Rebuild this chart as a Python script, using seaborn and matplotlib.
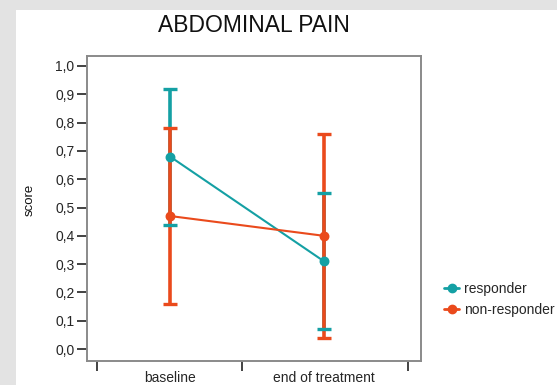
import matplotlib
matplotlib.use("Agg")
import matplotlib.pyplot as plt
from matplotlib.patches import Rectangle
import numpy as np
import pandas as pd
import seaborn as sns

# ---- data -------------------------------------------------------------
timepoints = ["baseline", "end of treatment"]
groups = ["responder", "non-responder"]
responder_mean = [0.68, 0.31]
responder_low = [0.44, 0.07]
responder_high = [0.92, 0.55]
nonresponder_mean = [0.47, 0.40]
nonresponder_low = [0.16, 0.04]
nonresponder_high = [0.78, 0.76]
yticks = [0.0, 0.1, 0.2, 0.3, 0.4, 0.5, 0.6, 0.7, 0.8, 0.9, 1.0]

teal = "#14a0a4"
orange = "#ea4a1c"
palette = {"responder": teal, "non-responder": orange}

df = pd.DataFrame({
    "time": timepoints * 2,
    "group": [groups[0]] * 2 + [groups[1]] * 2,
    "score": responder_mean + nonresponder_mean,
    "low": responder_low + nonresponder_low,
    "high": responder_high + nonresponder_high,
})

sns.set_theme(style="white")
plt.rcParams["font.family"] = ["Liberation Sans", "DejaVu Sans"]

fig = plt.figure(figsize=(5.57, 3.85), dpi=100)
fig.patch.set_facecolor("white")
# grey frame strips along top and left edge
fig.patches.append(Rectangle((0, 1 - 10 / 385), 1, 10 / 385, transform=fig.transFigure,
                             facecolor="#e3e3e3", edgecolor="none", zorder=0))
fig.patches.append(Rectangle((0, 0), 16 / 557, 1, transform=fig.transFigure,
                             facecolor="#e3e3e3", edgecolor="none", zorder=0))

ax = fig.add_axes([87 / 557, 24 / 385, (421 - 87) / 557, (361 - 56) / 385])

# confidence intervals (responder underneath)
for g in groups:
    sub = df[df["group"] == g]
    x = np.arange(len(sub))
    ax.errorbar(x, sub["score"],
                yerr=[sub["score"] - sub["low"], sub["high"] - sub["score"]],
                fmt="none", ecolor=palette[g], elinewidth=2.6, capsize=5,
                capthick=2.4, zorder=2 if g == "responder" else 3)

sns.pointplot(data=df, x="time", y="score", hue="group", hue_order=groups,
              palette=palette, errorbar=None, dodge=False, markers="o",
              markersize=6, linewidth=1.5, ax=ax, legend=False)
for ln in ax.lines:
    ln.set_zorder(4)

ax.set_xlim(-0.539, 1.63)
ax.set_ylim(-0.042, 1.035)
ax.set_yticks(yticks)
ax.set_yticklabels([f"{v:.1f}".replace(".", ",") for v in yticks], fontsize=10)

# boundary ticks as major ticks, category names as minor tick labels
ax.set_xticks([-0.474, 0.468, 1.545])
ax.set_xticklabels([])
ax.set_xticks([0, 1], minor=True)
ax.set_xticklabels(timepoints, minor=True, fontsize=10)
ax.tick_params(axis="x", which="major", direction="out", length=7, width=1.2,
               color="#222222", bottom=True)
ax.tick_params(axis="x", which="minor", length=0, pad=7)
ax.tick_params(axis="y", direction="out", length=7, width=1.2, color="#222222",
               left=True, pad=2)

for s in ax.spines.values():
    s.set_color("#8a8a8a")
    s.set_linewidth(1.4)

ax.set_xlabel("")
ax.set_ylabel("")
fig.text(30 / 557, 1 - 200 / 385, "score", rotation=90, ha="center",
         va="center", fontsize=9.5, color="#111111")

fig.text(254 / 557, 1 - 25 / 385, "ABDOMINAL PAIN", ha="center", va="center",
         fontsize=16.5, color="#111111")

handles = [plt.Line2D([], [], color=palette[g], marker="o", markersize=6,
                      linewidth=2) for g in groups]
fig.legend(handles, groups, loc="upper left",
           bbox_to_anchor=(440 / 557, 1 - 278 / 385), frameon=False,
           fontsize=10, handlelength=1.1, handletextpad=0.3, labelspacing=0.5,
           borderaxespad=0, borderpad=0.3)

fig.savefig("out.png", dpi=100)
